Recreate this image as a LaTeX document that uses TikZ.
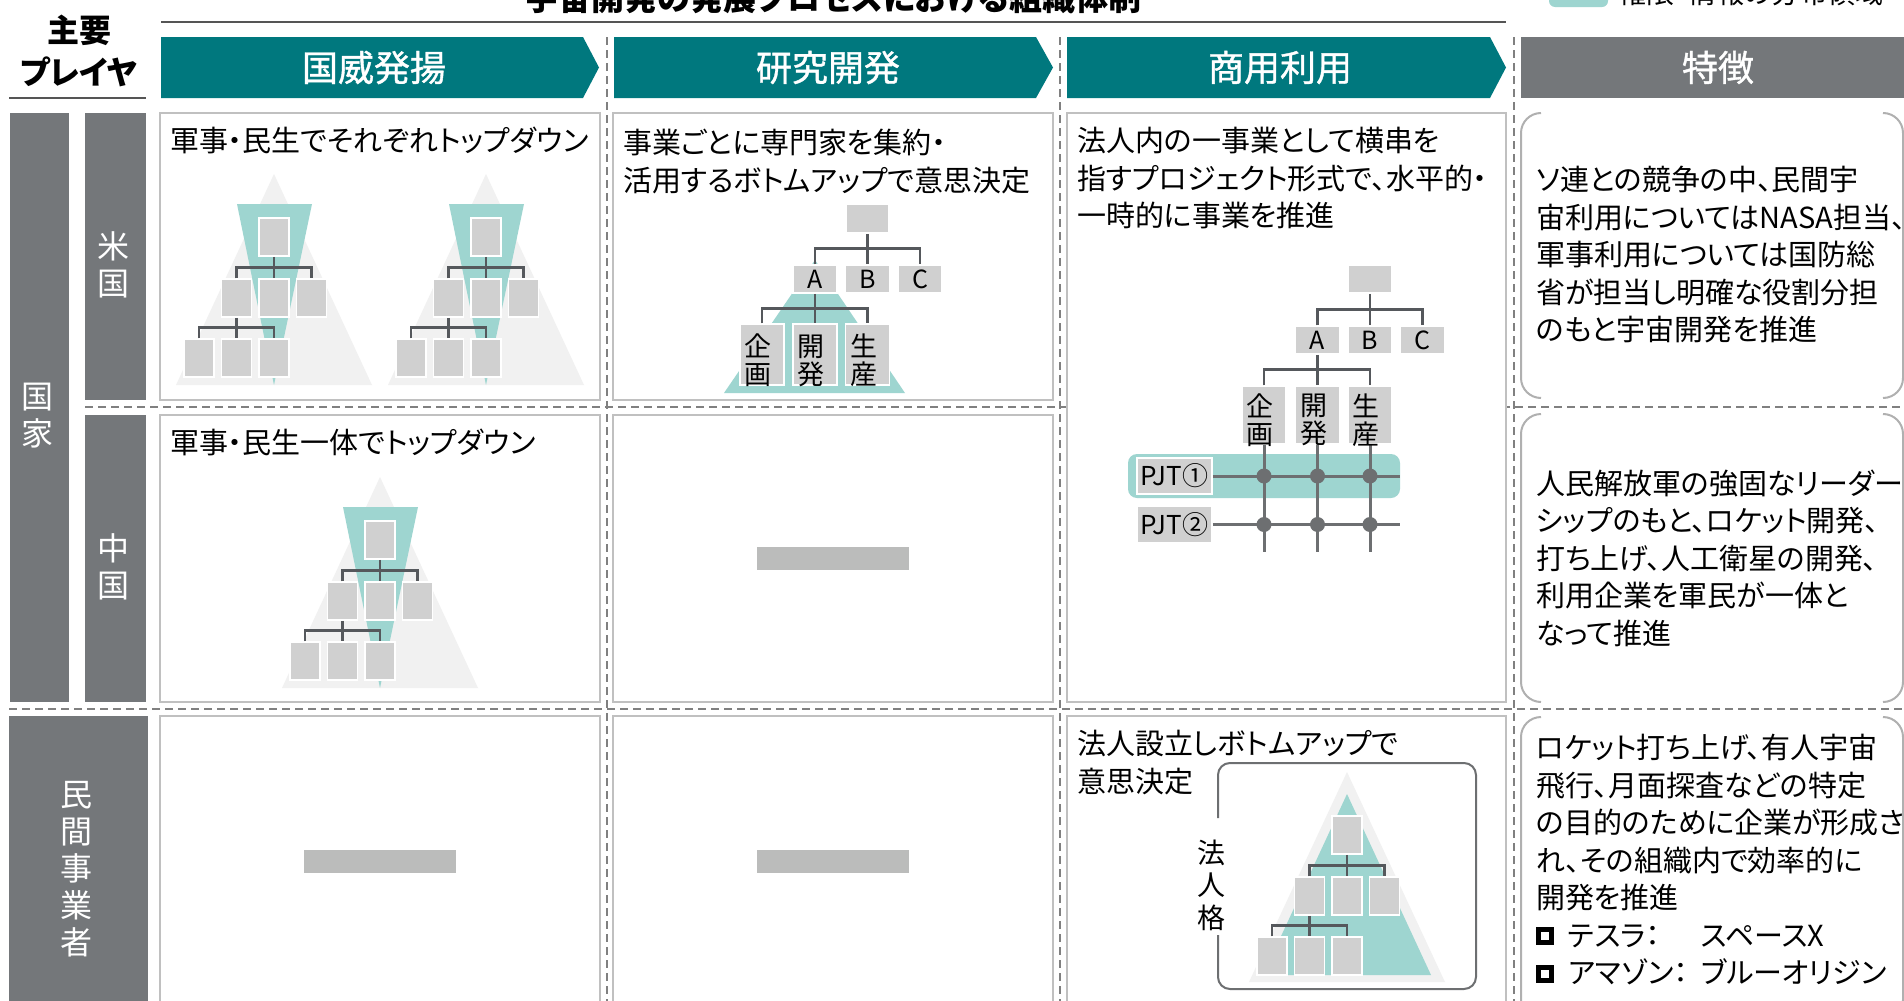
\documentclass[tikz,border=0pt]{standalone}
\usepackage{fontspec}
\setmainfont{Noto Sans CJK JP}[RawFeature={+palt}]
\newfontfamily\hdfont{Noto Sans CJK JP}[FakeBold=1.0]
\usetikzlibrary{calc}
\definecolor{tealD}{RGB}{0,120,126}
\definecolor{tealL}{RGB}{158,213,208}
\definecolor{sidegray}{RGB}{116,119,122}
\definecolor{boxgray}{RGB}{208,208,208}
\definecolor{trigray}{RGB}{241,241,241}
\definecolor{phgray}{RGB}{187,188,187}
\definecolor{cellgray}{RGB}{192,192,192}
\definecolor{dashgray}{RGB}{128,128,128}
\definecolor{conngray}{RGB}{85,88,92}
\definecolor{gridgray}{RGB}{109,111,113}
\definecolor{brkgray}{RGB}{176,176,176}
\definecolor{rulegray}{RGB}{85,85,85}
\tikzset{
 cellbox/.style={draw=cellgray, fill=white, line width=2pt},
 sepline/.style={draw=dashgray, line width=2pt, dash pattern=on 8pt off 5pt},
 pbox/.style={rectangle, fill=boxgray, draw=white, line width=1.5pt, minimum width=30pt, minimum height=38pt, inner sep=0pt},
 obox/.style={rectangle, fill=boxgray, draw=white, line width=1.5pt, minimum width=44pt, minimum height=28pt, inner sep=0pt, font=\fontsize{25}{28}\selectfont},
 conn/.style={draw=conngray, line width=2.5pt},
 gridln/.style={draw=gridgray, line width=3pt},
 gdot/.style={circle, fill=gridgray, inner sep=0pt, minimum size=15pt},
 sidebar/.style={rectangle, fill=sidegray, inner sep=0pt},
 sidetext/.style={text=white, align=center, inner sep=0pt, font=\fontsize{32}{37}\selectfont},
 hdtext/.style={text=white, font=\hdfont\fontsize{36}{40}\selectfont},
 body/.style={align=left, inner sep=0pt, font=\fontsize{29}{37.5}\selectfont},
 brk/.style={draw=brkgray, line width=2pt},
 vlabel/.style={align=center, inner sep=0pt, font=\fontsize{27}{28}\selectfont},
 phbar/.style={fill=phgray},
}
\newcommand{\orgpyr}[4]{%
 \begin{scope}[shift={(#2,#3)}]
  #4
  \node[pbox] (#1a) at (0,63) {};
  \node[pbox] (#1b1) at (-37.5,124) {};
  \node[pbox] (#1b2) at (0,124) {};
  \node[pbox] (#1b3) at (37.5,124) {};
  \node[pbox] (#1c1) at (-75,184) {};
  \node[pbox] (#1c2) at (-37.5,184) {};
  \node[pbox] (#1c3) at (0,184) {};
  \draw[conn] (#1a.south) -- (#1b2.north);
  \draw[conn] (#1b1.north) -- ++(0,-11) -| (#1b3.north);
  \draw[conn] (#1b1.south) -- (#1c2.north);
  \draw[conn] (#1c1.north) -- ++(0,-11) -| (#1c3.north);
 \end{scope}}
\newcommand{\topdown}{%
  \fill[trigray] (0,0) -- (-98,211) -- (98,211) -- cycle;
  \fill[tealL] (-37,30) -- (38,30) -- (0,211) -- cycle;}
\newcommand{\bottomup}{%
  \fill[trigray] (0,0) -- (-98,210) -- (98,210) -- cycle;
  \fill[tealL] (0,22) -- (-84,203) -- (84,203) -- cycle;}
\newcommand{\sqb}{\raisebox{6pt}{\setlength{\fboxsep}{0pt}\setlength{\fboxrule}{5pt}\fbox{\rule{0pt}{8pt}\hspace{8pt}}}\hspace{14pt}}
\begin{document}
\begin{tikzpicture}[x=1pt,y=-1pt]
\useasboundingbox (0,0) rectangle (1904,1001);
\fill[white] (0,0) rectangle (1904,1001);

% title and legend
\node[anchor=base, inner sep=0pt, font=\fontsize{33}{36}\selectfont\bfseries] (title) at (833.5,10) {宇宙開発の発展プロセスにおける組織体制};
\draw[rulegray, line width=2.5pt] (161,22) -- (1506,22);
\fill[tealL, rounded corners=6pt] (1549,-20) rectangle (1608,7);
\node[anchor=base west, inner sep=0pt, font=\fontsize{28}{30}\selectfont] (legend) at (1618,4) {権限・情報の分布領域};

% main players heading
\node[inner sep=0pt, font=\fontsize{32}{34}\selectfont\bfseries] (hd1) at (79,30) {主要};
\node[inner sep=0pt, font=\fontsize{32}{34}\selectfont\bfseries] (hd2) at (79,72) {プレイヤ};
\draw[rulegray, line width=2.5pt] (9,98) -- (146,98);

% column headers
\fill[tealD] (161,37) -- (583,37) -- (599,67.5) -- (583,98) -- (161,98) -- cycle;
\fill[tealD] (614,37) -- (1036,37) -- (1053,67.5) -- (1036,98) -- (614,98) -- cycle;
\fill[tealD] (1067,37) -- (1490,37) -- (1506,67.5) -- (1490,98) -- (1067,98) -- cycle;
\fill[sidegray] (1521,37) rectangle (1916,98);
\node[hdtext] (h1) at (374,67.5) {国威発揚};
\node[hdtext] (h2) at (828,67.5) {研究開発};
\node[hdtext] (h3) at (1280,67.5) {商用利用};
\node[hdtext] (h4) at (1718,67.5) {特徴};

% separators
\draw[sepline] (607,37) -- (607,1001);
\draw[sepline] (1060,37) -- (1060,1001);
\draw[sepline] (1514,37) -- (1514,1001);
\draw[sepline] (85,407) -- (1904,407);
\draw[sepline] (9,709) -- (1904,709);

% row headers
\node[sidebar, minimum width=59pt, minimum height=589pt] (kokka) at (39.5,407.5) {};
\node[sidebar, minimum width=61pt, minimum height=287pt] (usa) at (115.5,256.5) {};
\node[sidebar, minimum width=61pt, minimum height=287pt] (chn) at (115.5,558.5) {};
\node[sidebar, minimum width=139pt, minimum height=290pt] (priv) at (78.5,861) {};
\node[sidetext] (kokkat) at ($(kokka.center)+(-2,8)$) {国\\家};
\node[sidetext] (usat) at ($(usa.center)+(-2,8)$) {米\\国};
\node[sidetext] (chnt) at ($(chn.center)+(-2,8)$) {中\\国};
\node[sidetext] (privt) at ($(priv.center)+(-2,8)$) {民\\間\\事\\業\\者};

% cell boxes
\draw[cellbox] (160,113) rectangle (600,400);
\draw[cellbox] (613,113) rectangle (1053,400);
\draw[cellbox] (1067,113) rectangle (1506,702);
\draw[cellbox] (160,415) rectangle (600,702);
\draw[cellbox] (613,415) rectangle (1053,702);
\draw[cellbox] (160,716) rectangle (600,1010);
\draw[cellbox] (613,716) rectangle (1053,1010);
\draw[cellbox] (1067,716) rectangle (1506,1010);

% placeholder bars
\fill[phbar] (757,547) rectangle (909,570);
\fill[phbar] (304,850) rectangle (456,873);
\fill[phbar] (757,850) rectangle (909,873);

% brackets of the feature column
\draw[brk, rounded corners=20pt] (1541,113) -- (1521,113) -- (1521,398) -- (1541,398);
\draw[brk, rounded corners=20pt] (1883,113) -- (1903,113) -- (1903,398) -- (1883,398);
\draw[brk, rounded corners=20pt] (1541,414) -- (1521,414) -- (1521,702) -- (1541,702);
\draw[brk, rounded corners=20pt] (1883,414) -- (1903,414) -- (1903,702) -- (1883,702);
\draw[brk, rounded corners=20pt] (1541,717) -- (1521,717) -- (1521,1020) -- (1541,1020);
\draw[brk, rounded corners=20pt] (1883,717) -- (1903,717) -- (1903,1020) -- (1883,1020);

% cell texts
\node[body, anchor=north west] (t11) at (170,127) {軍事・民生でそれぞれトップダウン};
\node[body, anchor=north west] (t12) at (623,129) {事業ごとに専門家を集約・\\活用するボトムアップで意思決定};
\node[body, anchor=north west] (t13) at (1077,127) {法人内の一事業として横串を\\指すプロジェクト形式で、水平的・\\一時的に事業を推進};
\node[body, anchor=north west] (t21) at (170,429) {軍事・民生一体でトップダウン};
\node[body, anchor=north west] (t33) at (1077,730) {法人設立しボトムアップで\\意思決定};

% feature texts
\node[body, anchor=west] (f1) at (1536,255) {ソ連との競争の中、民間宇\\宙利用についてはNASA担当、\\軍事利用については国防総\\省が担当し明確な役割分担\\のもと宇宙開発を推進};
\node[body, anchor=west] (f2) at (1536,558) {人民解放軍の強固なリーダー\\シップのもと、ロケット開発、\\打ち上げ、人工衛星の開発、\\利用企業を軍民が一体と\\なって推進};
\node[body, anchor=west] (f3) at (1536,860) {ロケット打ち上げ、有人宇宙\\飛行、月面探査などの特定\\の目的のために企業が形成さ\\れ、その組織内で効率的に\\開発を推進\\\sqb\makebox[133pt][l]{テスラ：}スペースX\\\sqb\makebox[133pt][l]{アマゾン：}ブルーオリジン};

% top-down pyramids
\orgpyr{pa}{274}{174}{\topdown}
\orgpyr{pb}{486}{174}{\topdown}
\orgpyr{pc}{380}{477}{\topdown}

% research & development tree
\fill[tealL] (815,260) -- (724,393) -- (905,393) -- cycle;
\node[obox, minimum width=43pt, minimum height=29pt] (c2top) at (867.5,218.5) {};
\node[obox] (c2A) at (815,279) {A};
\node[obox] (c2B) at (867.5,279) {B};
\node[obox] (c2C) at (920,279) {C};
\node[obox, minimum height=61pt] (c2k) at (762,354.5) {};
\node[obox, minimum height=61pt] (c2d) at (815,354.5) {};
\node[obox, minimum height=61pt] (c2s) at (867.5,354.5) {};
\node[vlabel] (c2kt) at ($(c2k.center)+(-4,6)$) {企\\画};
\node[vlabel] (c2dt) at ($(c2d.center)+(-4,6)$) {開\\発};
\node[vlabel] (c2st) at ($(c2s.center)+(-4,6)$) {生\\産};
\draw[conn] (c2top.south) -- (c2B.north);
\draw[conn] (c2A.north) -- ++(0,-16) -| (c2C.north);
\draw[conn] (c2A.south) -- (c2d.north);
\draw[conn] (c2k.north) -- ++(0,-15) -| (c2s.north);

% commercial use: project matrix
\fill[tealL, rounded corners=9pt] (1128,454) rectangle (1400,498);
\node[obox] (c3top) at (1370,279) {};
\node[obox] (c3A) at (1317.5,340) {A};
\node[obox] (c3B) at (1370,340) {B};
\node[obox] (c3C) at (1422.5,340) {C};
\node[obox, minimum height=58pt] (c3k) at (1264,415) {};
\node[obox, minimum height=58pt] (c3d) at (1317.5,415) {};
\node[obox, minimum height=58pt] (c3s) at (1370,415) {};
\draw[conn] (c3top.south) -- (c3B.north);
\draw[conn] (c3A.north) -- ++(0,-16) -| (c3C.north);
\draw[conn] (c3A.south) -- (c3d.north);
\draw[conn] (c3k.north) -- ++(0,-16) -| (c3s.north);
\coordinate (vk) at (1264,552);
\coordinate (vd) at (1317.5,552);
\coordinate (vs) at (1370,552);
\draw[gridln] (c3k.south) -- (vk);
\draw[gridln] (c3d.south) -- (vd);
\draw[gridln] (c3s.south) -- (vs);
\node[vlabel] (c3kt) at ($(c3k.center)+(-4,5)$) {企\\画};
\node[vlabel] (c3dt) at ($(c3d.center)+(-4,5)$) {開\\発};
\node[vlabel] (c3st) at ($(c3s.center)+(-4,5)$) {生\\産};
\node[obox, minimum width=75pt, minimum height=36pt, font=\fontsize{26}{28}\selectfont] (pjt1) at (1174.5,476) {PJT①};
\node[obox, minimum width=75pt, minimum height=37pt, font=\fontsize{26}{28}\selectfont] (pjt2) at (1174.5,524.5) {PJT②};
\coordinate (p1end) at (1400,476);
\coordinate (p2end) at (1400,524.5);
\draw[gridln] (pjt1.east) -- (p1end);
\draw[gridln] (pjt2.east) -- (p2end);
\node[gdot] (d11) at (1264,476) {};
\node[gdot] (d12) at (1317.5,476) {};
\node[gdot] (d13) at (1370,476) {};
\node[gdot] (d21) at (1264,524.5) {};
\node[gdot] (d22) at (1317.5,524.5) {};
\node[gdot] (d23) at (1370,524.5) {};

% private: legal entity pyramid
\draw[gridgray, line width=2pt, rounded corners=12pt] (1218,818) -- (1218,763) -- (1476,763) -- (1476,989) -- (1218,989) -- (1218,935);
\node[align=center, inner sep=0pt, font=\fontsize{28}{32.5}\selectfont] (hjk) at (1211,885) {法\\人\\格};
\orgpyr{pd}{1347}{772}{\bottomup}
\end{tikzpicture}
\end{document}
